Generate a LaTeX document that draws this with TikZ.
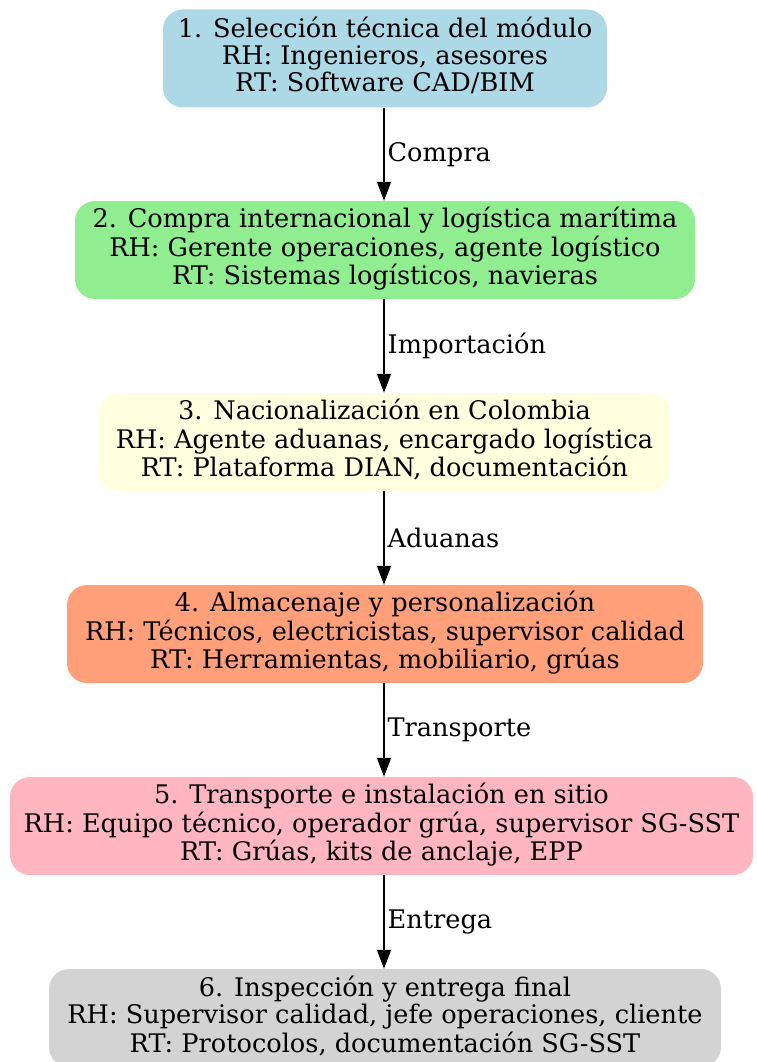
\documentclass[tikz,border=0pt]{standalone}
\usepackage{fontspec}
\setmainfont{DejaVu Serif}
\usetikzlibrary{arrows.meta}
\definecolor{lblue}{HTML}{ADD8E6}
\definecolor{lgreen}{HTML}{90EE90}
\definecolor{lyellow}{HTML}{FFFFE0}
\definecolor{lsalmon}{HTML}{FFA07A}
\definecolor{lpink}{HTML}{FFB6C1}
\definecolor{lgrey}{HTML}{D3D3D3}
\newcommand{\stagetext}[3]{\raisebox{3pt}{\begin{tabular}{@{}c@{}}#1\\#2\\#3\end{tabular}}}
\tikzset{
  stage/.style={rounded corners=20pt, align=center, minimum height=98pt, inner sep=0pt,
    font=\fontsize{25.6}{27}\selectfont},
  flow/.style={line width=1.3pt, -{Triangle[length=19pt,width=14pt]}},
  elabel/.style={font=\fontsize{25.6}{27}\selectfont, anchor=west, inner sep=0pt}
}
\begin{document}
\begin{tikzpicture}[x=1pt,y=-1pt]
\useasboundingbox (0,0) rectangle (756,1062);
\node[stage, fill=lblue, minimum width=444pt] (n1) at (385,58.5)
  {\stagetext{1. Selección técnica del módulo}{RH: Ingenieros, asesores}{RT: Software CAD/BIM}};
\node[stage, fill=lgreen, minimum width=620pt] (n2) at (385,250)
  {\stagetext{2. Compra internacional y logística marítima}{RH: Gerente operaciones, agente logístico}{RT: Sistemas logísticos, navieras}};
\node[stage, fill=lyellow, minimum width=571pt] (n3) at (384.5,442)
  {\stagetext{3. Nacionalización en Colombia}{RH: Agente aduanas, encargado logística}{RT: Plataforma DIAN, documentación}};
\node[stage, fill=lsalmon, minimum width=636pt] (n4) at (385,634)
  {\stagetext{4. Almacenaje y personalización}{RH: Técnicos, electricistas, supervisor calidad}{RT: Herramientas, mobiliario, grúas}};
\node[stage, fill=lpink, minimum width=743pt] (n5) at (381.5,826)
  {\stagetext{5. Transporte e instalación en sitio}{RH: Equipo técnico, operador grúa, supervisor SG-SST}{RT: Grúas, kits de anclaje, EPP}};
\node[stage, fill=lgrey, minimum width=672pt] (n6) at (385,1018)
  {\stagetext{6. Inspección y entrega final}{RH: Supervisor calidad, jefe operaciones, cliente}{RT: Protocolos, documentación SG-SST}};
\draw[flow] (n1.south -| 384,0) -- (n2.north -| 384,0) node[elabel, midway, xshift=3pt] (l1) {Compra};
\draw[flow] (n2.south -| 384,0) -- (n3.north -| 384,0) node[elabel, midway, xshift=3pt] (l2) {Importación};
\draw[flow] (n3.south -| 384,0) -- (n4.north -| 384,0) node[elabel, midway, xshift=3pt] (l3) {Aduanas};
\draw[flow] (n4.south -| 384,0) -- (n5.north -| 384,0) node[elabel, midway, xshift=3pt] (l4) {Transporte};
\draw[flow] (n5.south -| 384,0) -- (n6.north -| 384,0) node[elabel, midway, xshift=3pt] (l5) {Entrega};
\end{tikzpicture}
\end{document}
